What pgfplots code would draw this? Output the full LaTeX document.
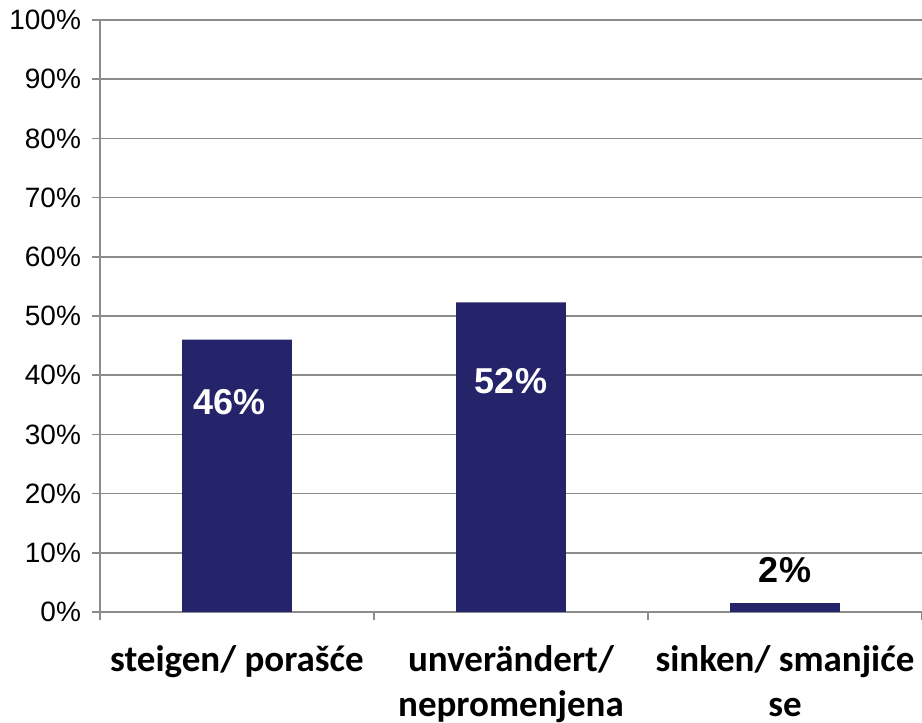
\documentclass[border=0pt]{standalone}
\usepackage{fontspec}
\setmainfont{Liberation Sans}
\newfontfamily\calibri{Carlito}
\usepackage{pgfplots}
\pgfplotsset{compat=1.18}
\usepackage{pgfplotstable}
\definecolor{barblue}{RGB}{37,35,105}
\definecolor{gridgray}{RGB}{140,140,140}

\pgfplotstableread{
x y lab dx dy
0 46.0 46\% -3.75 -31
1 52.3 52\% 0 -39.5
}\inbars
\pgfplotstableread{
x y lab dx dy
2 1.6 2\% 0 16
}\outbars

\begin{document}
\begin{tikzpicture}
\begin{axis}[
  scale only axis, width=411pt, height=296pt,
  xmin=-0.5, xmax=2.5, ymin=0, ymax=100,
  axis lines=left, axis line style={-, draw=gridgray, line width=1pt},
  ybar, bar width=0.4, bar shift=0pt,
  ytick={0,10,...,100},
  yticklabels={0\%,10\%,20\%,30\%,40\%,50\%,60\%,70\%,80\%,90\%,100\%},
  ymajorgrids, grid style={gridgray, line width=0.75pt},
  tick align=outside, major tick length=4pt,
  tick style={gridgray, line width=0.75pt},
  xtick={-0.5,0.5,1.5,2.5}, xticklabels={},
  extra x ticks={0,1,2},
  extra x tick labels={{steigen/ porašće},{unverändert/\\nepromenjena},{sinken/ smanjiće\\se}},
  extra x tick style={major tick length=0pt, grid=none,
    xticklabel style={font=\calibri\bfseries\fontsize{18.5}{22.5}\selectfont, align=center, text=black, yshift=-13pt}},
  yticklabel style={font=\fontsize{14}{16}\selectfont, text=black, xshift=-2pt},
  clip=false,
  visualization depends on={\thisrow{dx} \as \dx},
  visualization depends on={\thisrow{dy} \as \dy},
  nodes near coords,
  point meta=explicit symbolic,
  nodes near coords style={anchor=center, xshift=\dx pt, yshift=\dy pt,
    font=\bfseries\fontsize{18}{21}\selectfont},
]
\addplot[fill=barblue, draw=none, nodes near coords style={text=white}]
  table[x=x, y=y, meta=lab] {\inbars};
\addplot[fill=barblue, draw=none, nodes near coords style={text=black}]
  table[x=x, y=y, meta=lab] {\outbars};
\end{axis}
\pgfresetboundingbox
\path (-50pt,-55.5pt) rectangle (411pt,306pt);
\end{tikzpicture}
\end{document}
